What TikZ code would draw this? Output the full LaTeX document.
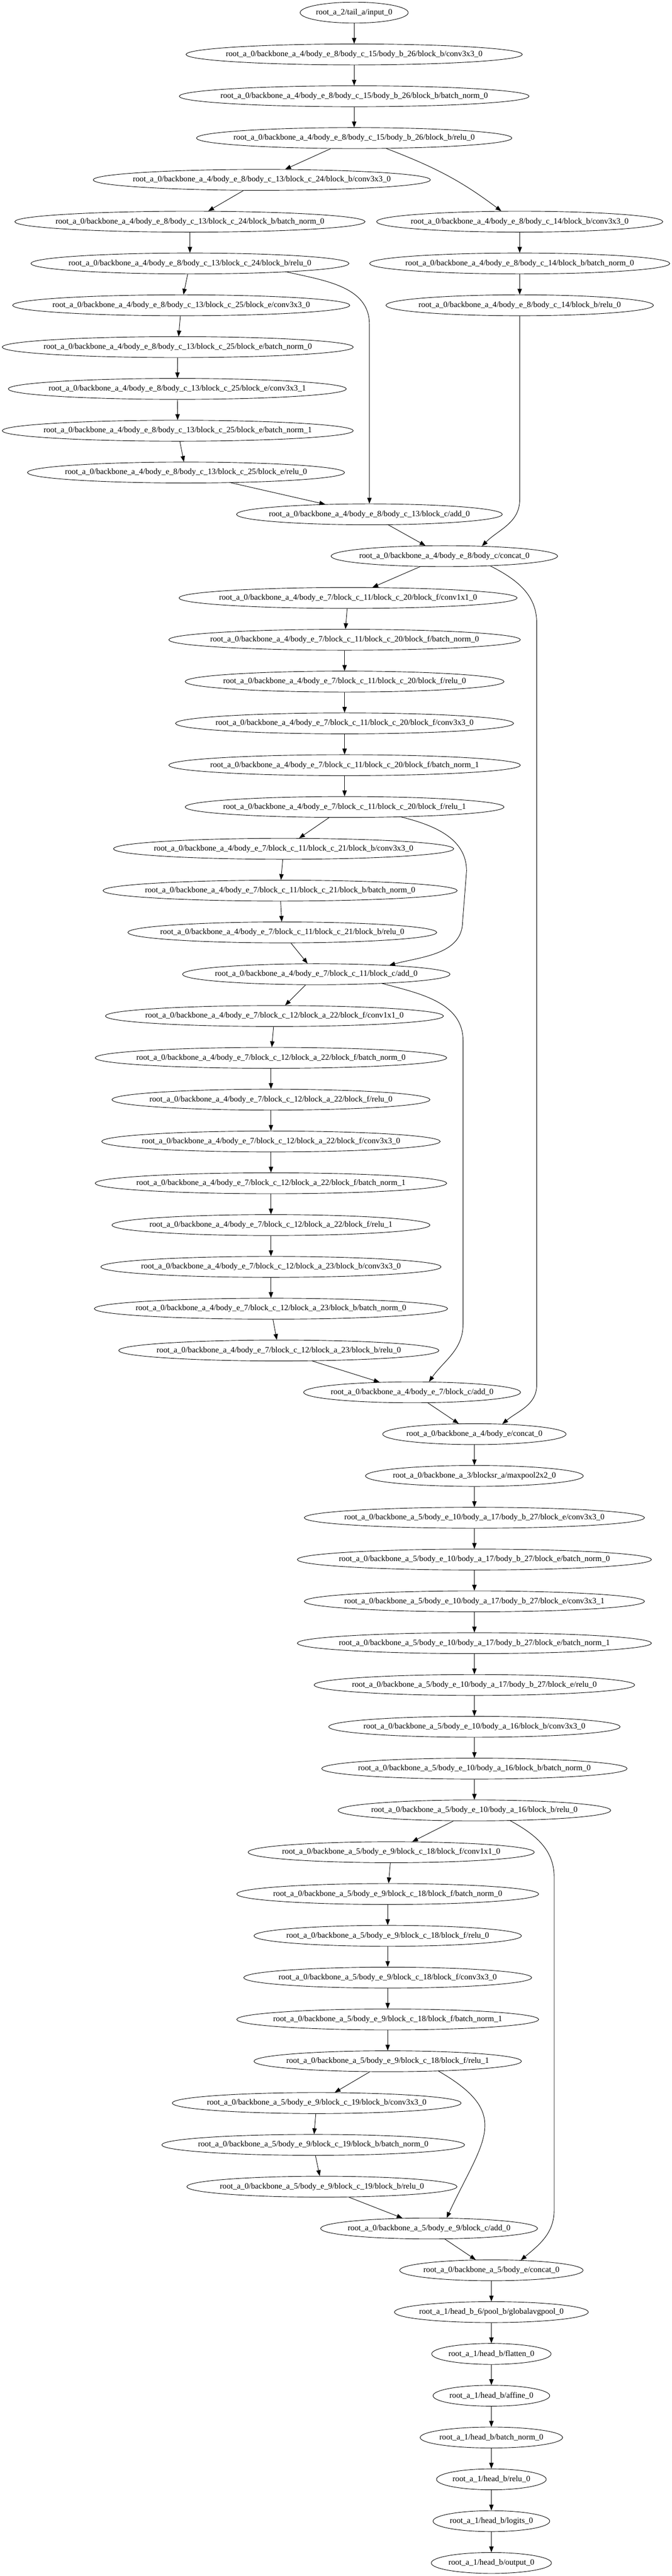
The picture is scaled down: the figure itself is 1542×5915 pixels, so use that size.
\documentclass[tikz,border=0pt]{standalone}
\usepackage{fontspec}
\setmainfont{Liberation Serif}
\usepackage{tikz}
\usetikzlibrary{arrows.meta,shapes.geometric}

\begin{document}
\begin{tikzpicture}[x=0.75pt,y=0.75pt,line width=0.8pt,>={Triangle[length=10pt,width=7.5pt]},
  op/.style={ellipse,draw,minimum height=36pt,inner xsep=-30pt,inner ysep=0pt,font=\fontsize{14}{17}\selectfont},
  wd/.style={minimum width=#1*0.75pt}]
\useasboundingbox (0,0) rectangle (1542,-5915);
\node (1) at (813,-29) [op,wd=248] {root\_a\_2/tail\_a/input\_0};
\node (2) at (813,-125) [op,wd=772] {root\_a\_0/backbone\_a\_4/body\_e\_8/body\_c\_15/body\_b\_26/block\_b/conv3x3\_0};
\node (3) at (813,-221) [op,wd=803] {root\_a\_0/backbone\_a\_4/body\_e\_8/body\_c\_15/body\_b\_26/block\_b/batch\_norm\_0};
\node (4) at (813,-317) [op,wd=724] {root\_a\_0/backbone\_a\_4/body\_e\_8/body\_c\_15/body\_b\_26/block\_b/relu\_0};
\node (5) at (601,-413) [op,wd=774] {root\_a\_0/backbone\_a\_4/body\_e\_8/body\_c\_13/block\_c\_24/block\_b/conv3x3\_0};
\node (6) at (436,-509) [op,wd=804] {root\_a\_0/backbone\_a\_4/body\_e\_8/body\_c\_13/block\_c\_24/block\_b/batch\_norm\_0};
\node (7) at (1193,-509) [op,wd=657] {root\_a\_0/backbone\_a\_4/body\_e\_8/body\_c\_14/block\_b/conv3x3\_0};
\node (8) at (436,-605) [op,wd=730] {root\_a\_0/backbone\_a\_4/body\_e\_8/body\_c\_13/block\_c\_24/block\_b/relu\_0};
\node (9) at (1193,-605) [op,wd=689] {root\_a\_0/backbone\_a\_4/body\_e\_8/body\_c\_14/block\_b/batch\_norm\_0};
\node (10) at (416,-701) [op,wd=774] {root\_a\_0/backbone\_a\_4/body\_e\_8/body\_c\_13/block\_c\_25/block\_e/conv3x3\_0};
\node (11) at (1193,-701) [op,wd=614] {root\_a\_0/backbone\_a\_4/body\_e\_8/body\_c\_14/block\_b/relu\_0};
\node (12) at (408,-797) [op,wd=806] {root\_a\_0/backbone\_a\_4/body\_e\_8/body\_c\_13/block\_c\_25/block\_e/batch\_norm\_0};
\node (13) at (407,-893) [op,wd=776] {root\_a\_0/backbone\_a\_4/body\_e\_8/body\_c\_13/block\_c\_25/block\_e/conv3x3\_1};
\node (14) at (408,-989) [op,wd=806] {root\_a\_0/backbone\_a\_4/body\_e\_8/body\_c\_13/block\_c\_25/block\_e/batch\_norm\_1};
\node (15) at (427,-1085) [op,wd=728] {root\_a\_0/backbone\_a\_4/body\_e\_8/body\_c\_13/block\_c\_25/block\_e/relu\_0};
\node (16) at (848,-1181) [op,wd=610] {root\_a\_0/backbone\_a\_4/body\_e\_8/body\_c\_13/block\_c/add\_0};
\node (17) at (1020,-1277) [op,wd=520] {root\_a\_0/backbone\_a\_4/body\_e\_8/body\_c/concat\_0};
\node (18) at (799,-1373) [op,wd=776] {root\_a\_0/backbone\_a\_4/body\_e\_7/block\_c\_11/block\_c\_20/block\_f/conv1x1\_0};
\node (19) at (791,-1469) [op,wd=807] {root\_a\_0/backbone\_a\_4/body\_e\_7/block\_c\_11/block\_c\_20/block\_f/batch\_norm\_0};
\node (20) at (791,-1565) [op,wd=732] {root\_a\_0/backbone\_a\_4/body\_e\_7/block\_c\_11/block\_c\_20/block\_f/relu\_0};
\node (21) at (791,-1661) [op,wd=776] {root\_a\_0/backbone\_a\_4/body\_e\_7/block\_c\_11/block\_c\_20/block\_f/conv3x3\_0};
\node (22) at (791,-1757) [op,wd=807] {root\_a\_0/backbone\_a\_4/body\_e\_7/block\_c\_11/block\_c\_20/block\_f/batch\_norm\_1};
\node (23) at (791,-1853) [op,wd=732] {root\_a\_0/backbone\_a\_4/body\_e\_7/block\_c\_11/block\_c\_20/block\_f/relu\_1};
\node (24) at (651,-1949) [op,wd=781] {root\_a\_0/backbone\_a\_4/body\_e\_7/block\_c\_11/block\_c\_21/block\_b/conv3x3\_0};
\node (25) at (643,-2045) [op,wd=813] {root\_a\_0/backbone\_a\_4/body\_e\_7/block\_c\_11/block\_c\_21/block\_b/batch\_norm\_0};
\node (26) at (648,-2141) [op,wd=709] {root\_a\_0/backbone\_a\_4/body\_e\_7/block\_c\_11/block\_c\_21/block\_b/relu\_0};
\node (27) at (726,-2237) [op,wd=614] {root\_a\_0/backbone\_a\_4/body\_e\_7/block\_c\_11/block\_c/add\_0};
\node (28) at (630,-2333) [op,wd=776] {root\_a\_0/backbone\_a\_4/body\_e\_7/block\_c\_12/block\_a\_22/block\_f/conv1x1\_0};
\node (29) at (622,-2429) [op,wd=807] {root\_a\_0/backbone\_a\_4/body\_e\_7/block\_c\_12/block\_a\_22/block\_f/batch\_norm\_0};
\node (30) at (622,-2525) [op,wd=730] {root\_a\_0/backbone\_a\_4/body\_e\_7/block\_c\_12/block\_a\_22/block\_f/relu\_0};
\node (31) at (622,-2621) [op,wd=777] {root\_a\_0/backbone\_a\_4/body\_e\_7/block\_c\_12/block\_a\_22/block\_f/conv3x3\_0};
\node (32) at (622,-2717) [op,wd=807] {root\_a\_0/backbone\_a\_4/body\_e\_7/block\_c\_12/block\_a\_22/block\_f/batch\_norm\_1};
\node (33) at (622,-2813) [op,wd=730] {root\_a\_0/backbone\_a\_4/body\_e\_7/block\_c\_12/block\_a\_22/block\_f/relu\_1};
\node (34) at (622,-2909) [op,wd=781] {root\_a\_0/backbone\_a\_4/body\_e\_7/block\_c\_12/block\_a\_23/block\_b/conv3x3\_0};
\node (35) at (622,-3005) [op,wd=811] {root\_a\_0/backbone\_a\_4/body\_e\_7/block\_c\_12/block\_a\_23/block\_b/batch\_norm\_0};
\node (36) at (640,-3101) [op,wd=735] {root\_a\_0/backbone\_a\_4/body\_e\_7/block\_c\_12/block\_a\_23/block\_b/relu\_0};
\node (37) at (946,-3197) [op,wd=498] {root\_a\_0/backbone\_a\_4/body\_e\_7/block\_c/add\_0};
\node (38) at (1089,-3293) [op,wd=421] {root\_a\_0/backbone\_a\_4/body\_e/concat\_0};
\node (39) at (1089,-3389) [op,wd=500] {root\_a\_0/backbone\_a\_3/blocksr\_a/maxpool2x2\_0};
\node (40) at (1089,-3485) [op,wd=781] {root\_a\_0/backbone\_a\_5/body\_e\_10/body\_a\_17/body\_b\_27/block\_e/conv3x3\_0};
\node (41) at (1089,-3581) [op,wd=813] {root\_a\_0/backbone\_a\_5/body\_e\_10/body\_a\_17/body\_b\_27/block\_e/batch\_norm\_0};
\node (42) at (1089,-3677) [op,wd=781] {root\_a\_0/backbone\_a\_5/body\_e\_10/body\_a\_17/body\_b\_27/block\_e/conv3x3\_1};
\node (43) at (1089,-3773) [op,wd=813] {root\_a\_0/backbone\_a\_5/body\_e\_10/body\_a\_17/body\_b\_27/block\_e/batch\_norm\_1};
\node (44) at (1089,-3869) [op,wd=736] {root\_a\_0/backbone\_a\_5/body\_e\_10/body\_a\_17/body\_b\_27/block\_e/relu\_0};
\node (45) at (1089,-3965) [op,wd=669] {root\_a\_0/backbone\_a\_5/body\_e\_10/body\_a\_16/block\_b/conv3x3\_0};
\node (46) at (1089,-4061) [op,wd=701] {root\_a\_0/backbone\_a\_5/body\_e\_10/body\_a\_16/block\_b/batch\_norm\_0};
\node (47) at (1089,-4157) [op,wd=626] {root\_a\_0/backbone\_a\_5/body\_e\_10/body\_a\_16/block\_b/relu\_0};
\node (48) at (898,-4253) [op,wd=657] {root\_a\_0/backbone\_a\_5/body\_e\_9/block\_c\_18/block\_f/conv1x1\_0};
\node (49) at (890,-4349) [op,wd=693] {root\_a\_0/backbone\_a\_5/body\_e\_9/block\_c\_18/block\_f/batch\_norm\_0};
\node (50) at (890,-4445) [op,wd=614] {root\_a\_0/backbone\_a\_5/body\_e\_9/block\_c\_18/block\_f/relu\_0};
\node (51) at (890,-4541) [op,wd=661] {root\_a\_0/backbone\_a\_5/body\_e\_9/block\_c\_18/block\_f/conv3x3\_0};
\node (52) at (890,-4637) [op,wd=693] {root\_a\_0/backbone\_a\_5/body\_e\_9/block\_c\_18/block\_f/batch\_norm\_1};
\node (53) at (890,-4733) [op,wd=614] {root\_a\_0/backbone\_a\_5/body\_e\_9/block\_c\_18/block\_f/relu\_1};
\node (54) at (727,-4829) [op,wd=663] {root\_a\_0/backbone\_a\_5/body\_e\_9/block\_c\_19/block\_b/conv3x3\_0};
\node (55) at (719,-4925) [op,wd=695] {root\_a\_0/backbone\_a\_5/body\_e\_9/block\_c\_19/block\_b/batch\_norm\_0};
\node (56) at (739,-5021) [op,wd=620] {root\_a\_0/backbone\_a\_5/body\_e\_9/block\_c\_19/block\_b/relu\_0};
\node (57) at (985,-5117) [op,wd=498] {root\_a\_0/backbone\_a\_5/body\_e\_9/block\_c/add\_0};
\node (58) at (1128,-5213) [op,wd=421] {root\_a\_0/backbone\_a\_5/body\_e/concat\_0};
\node (59) at (1128,-5309) [op,wd=445] {root\_a\_1/head\_b\_6/pool\_b/globalavgpool\_0};
\node (60) at (1128,-5405) [op,wd=274] {root\_a\_1/head\_b/flatten\_0};
\node (61) at (1128,-5501) [op,wd=268] {root\_a\_1/head\_b/affine\_0};
\node (62) at (1128,-5597) [op,wd=327] {root\_a\_1/head\_b/batch\_norm\_0};
\node (63) at (1128,-5693) [op,wd=252] {root\_a\_1/head\_b/relu\_0};
\node (64) at (1128,-5789) [op,wd=268] {root\_a\_1/head\_b/logits\_0};
\node (65) at (1128,-5885) [op,wd=276] {root\_a\_1/head\_b/output\_0};
\draw[->] (1) -- (2);
\draw[->] (2) -- (3);
\draw[->] (3) -- (4);
\draw[->] (4) -- (5);
\draw[->] (4.-18) to[out=-21,in=143] (7.150);
\draw[->] (5) -- (6);
\draw[->] (6) -- (8);
\draw[->] (7) -- (9);
\draw[->] (9) -- (11);
\draw[->] (8) -- (10);
\draw[->] (8.-5) to[out=-13,in=90] (16.north |- 0,-745) -- (16);
\draw[->] (10) -- (12);
\draw[->] (12) -- (13);
\draw[->] (13) -- (14);
\draw[->] (14) -- (15);
\draw[->] (15) -- (16);
\draw[->] (11) -- (11.south |- 0,-1147) to[out=-90,in=45] (17.15);
\draw[->] (16) -- (17);
\draw[->] (17) -- (18);
\draw[->] (17.-12) to[out=-27,in=90] (1232,-1430) -- (1232,-3180) to[out=-90,in=40] (38.20);
\draw[->] (18) -- (19);
\draw[->] (19) -- (20);
\draw[->] (20) -- (21);
\draw[->] (21) -- (22);
\draw[->] (22) -- (23);
\draw[->] (23) -- (24);
\draw[->] (23.-10) to[out=-14,in=90] (1071,-2000) -- (1062,-2115) to[out=-90,in=15] (27.7);
\draw[->] (24) -- (25);
\draw[->] (25) -- (26);
\draw[->] (26) -- (27);
\draw[->] (27) -- (28);
\draw[->] (27.-8) to[out=-15,in=90] (1063,-2390) -- (1063,-3040) to[out=-90,in=55] (37.32);
\draw[->] (28) -- (29);
\draw[->] (29) -- (30);
\draw[->] (30) -- (31);
\draw[->] (31) -- (32);
\draw[->] (32) -- (33);
\draw[->] (33) -- (34);
\draw[->] (34) -- (35);
\draw[->] (35) -- (36);
\draw[->] (36) -- (37);
\draw[->] (37) -- (38);
\draw[->] (38) -- (39);
\draw[->] (39) -- (40);
\draw[->] (40) -- (41);
\draw[->] (41) -- (42);
\draw[->] (42) -- (43);
\draw[->] (43) -- (44);
\draw[->] (44) -- (45);
\draw[->] (45) -- (46);
\draw[->] (46) -- (47);
\draw[->] (47) -- (48);
\draw[->] (47.-16) to[out=-29,in=90] (1272,-4310) -- (1272,-5075) to[out=-90,in=40] (58.19);
\draw[->] (48) -- (49);
\draw[->] (49) -- (50);
\draw[->] (50) -- (51);
\draw[->] (51) -- (52);
\draw[->] (52) -- (53);
\draw[->] (53) -- (54);
\draw[->] (53.-11) to[out=-30,in=65,looseness=1.5] (57.31);
\draw[->] (54) -- (55);
\draw[->] (55) -- (56);
\draw[->] (56) -- (57);
\draw[->] (57) -- (58);
\draw[->] (58) -- (59);
\draw[->] (59) -- (60);
\draw[->] (60) -- (61);
\draw[->] (61) -- (62);
\draw[->] (62) -- (63);
\draw[->] (63) -- (64);
\draw[->] (64) -- (65);
\end{tikzpicture}
\end{document}
